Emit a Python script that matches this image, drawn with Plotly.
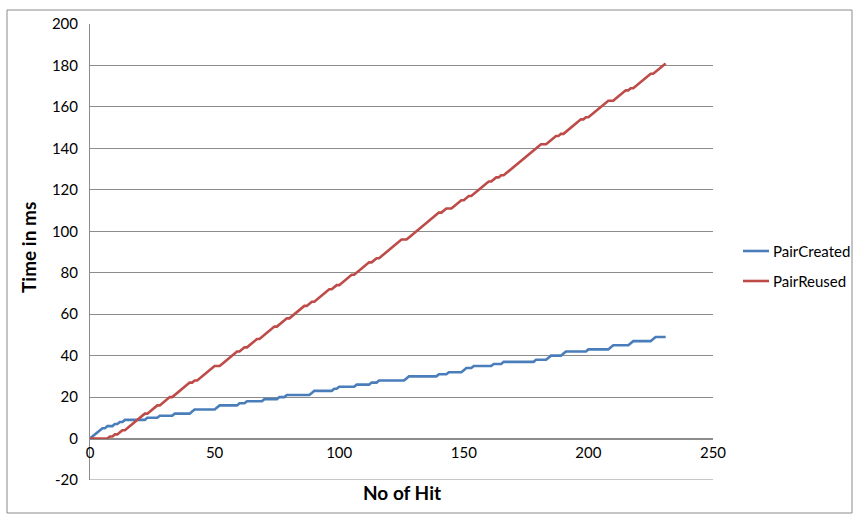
import plotly.graph_objects as go

# Hit counter (x) and cumulative time in ms for each strategy
hits = list(range(0, 232))

pair_created = [
    0, 1, 2, 3, 4, 5, 5, 6, 6, 6,
    7, 7, 8, 8, 9, 9, 9, 9, 9, 9,
    9, 9, 9, 10, 10, 10, 10, 10, 11, 11,
    11, 11, 11, 11, 12, 12, 12, 12, 12, 12,
    12, 13, 14, 14, 14, 14, 14, 14, 14, 14,
    14, 15, 16, 16, 16, 16, 16, 16, 16, 16,
    17, 17, 17, 18, 18, 18, 18, 18, 18, 18,
    19, 19, 19, 19, 19, 19, 20, 20, 20, 21,
    21, 21, 21, 21, 21, 21, 21, 21, 21, 22,
    23, 23, 23, 23, 23, 23, 23, 23, 24, 24,
    25, 25, 25, 25, 25, 25, 25, 26, 26, 26,
    26, 26, 26, 27, 27, 27, 28, 28, 28, 28,
    28, 28, 28, 28, 28, 28, 28, 29, 30, 30,
    30, 30, 30, 30, 30, 30, 30, 30, 30, 30,
    31, 31, 31, 31, 32, 32, 32, 32, 32, 32,
    33, 34, 34, 34, 35, 35, 35, 35, 35, 35,
    35, 35, 36, 36, 36, 36, 37, 37, 37, 37,
    37, 37, 37, 37, 37, 37, 37, 37, 37, 38,
    38, 38, 38, 38, 39, 40, 40, 40, 40, 40,
    41, 42, 42, 42, 42, 42, 42, 42, 42, 42,
    43, 43, 43, 43, 43, 43, 43, 43, 43, 44,
    45, 45, 45, 45, 45, 45, 45, 46, 47, 47,
    47, 47, 47, 47, 47, 47, 48, 49, 49, 49,
    49, 49,
]

pair_reused = [
    0, 0, 0, 0, 0, 0, 0, 0, 1, 1,
    2, 2, 3, 4, 4, 5, 6, 7, 8, 9,
    10, 11, 12, 12, 13, 14, 15, 16, 16, 17,
    18, 19, 20, 20, 21, 22, 23, 24, 25, 26,
    27, 27, 28, 28, 29, 30, 31, 32, 33, 34,
    35, 35, 35, 36, 37, 38, 39, 40, 41, 42,
    42, 43, 44, 44, 45, 46, 47, 48, 48, 49,
    50, 51, 52, 53, 54, 54, 55, 56, 57, 58,
    58, 59, 60, 61, 62, 63, 64, 64, 65, 66,
    66, 67, 68, 69, 70, 71, 72, 72, 73, 74,
    74, 75, 76, 77, 78, 79, 79, 80, 81, 82,
    83, 84, 85, 85, 86, 87, 87, 88, 89, 90,
    91, 92, 93, 94, 95, 96, 96, 96, 97, 98,
    99, 100, 101, 102, 103, 104, 105, 106, 107, 108,
    109, 109, 110, 111, 111, 111, 112, 113, 114, 115,
    115, 116, 117, 117, 118, 119, 120, 121, 122, 123,
    124, 124, 125, 126, 126, 127, 127, 128, 129, 130,
    131, 132, 133, 134, 135, 136, 137, 138, 139, 140,
    141, 142, 142, 142, 143, 144, 145, 146, 146, 147,
    147, 148, 149, 150, 151, 152, 153, 154, 154, 155,
    155, 156, 157, 158, 159, 160, 161, 162, 163, 163,
    163, 164, 165, 166, 167, 168, 168, 169, 169, 170,
    171, 172, 173, 174, 175, 176, 176, 177, 178, 179,
    180, 181,
]

series_names = ["PairCreated", "PairReused"]
series_colors = ["#4a7ebb", "#be4b48"]

x_ticks = [0, 50, 100, 150, 200, 250]
y_ticks = [-20, 0, 20, 40, 60, 80, 100, 120, 140, 160, 180, 200]

FONT = "Lato, Calibri, Carlito, sans-serif"
GRID = "#8c8c8c"
W, H = 856, 523
L, R, T, B = 90, 713, 24, 480          # plot area in pixels
PW, PH = R - L, B - T


def px_x(p):
    return (p - L) / PW


def px_y(p):
    return (B - p) / PH


fig = go.Figure()
for name, ys, col in zip(series_names, [pair_created, pair_reused], series_colors):
    fig.add_trace(go.Scatter(
        x=hits, y=ys, mode="lines", name=name,
        line=dict(color=col, width=2.6), showlegend=False,
    ))

# x axis crosses the y axis at zero, so place it at the y=0 fraction of the plot height
y_lo, y_hi = -20, 200
zero_pos = (0 - y_lo) / (y_hi - y_lo)

fig.update_layout(
    width=W, height=H,
    margin=dict(l=L, r=W - R, t=T, b=H - B),
    paper_bgcolor="white", plot_bgcolor="white",
    font=dict(family=FONT, size=15, color="#000000"),
    xaxis=dict(
        range=[0, 250], tickvals=x_ticks, ticktext=[str(v) for v in x_ticks],
        showgrid=False, zeroline=False,
        showline=True, linecolor=GRID, linewidth=1,
        anchor="free", position=zero_pos,
        ticks="", ticklen=0, tickfont=dict(size=15),
    ),
    yaxis=dict(
        range=[y_lo, y_hi], tickvals=y_ticks, ticktext=[str(v) for v in y_ticks],
        showgrid=True, gridcolor=GRID, gridwidth=1, zeroline=False,
        showline=True, linecolor=GRID, linewidth=1,
        ticks="", tickfont=dict(size=15), ticklabelstandoff=8,
    ),
    showlegend=False,
)

# bottom edge of plot area (gridline at -20) and the outer chart border
fig.add_shape(type="line", xref="paper", yref="y", x0=0, x1=1, y0=-20, y1=-20,
              line=dict(color=GRID, width=1))
fig.add_shape(type="rect", xref="paper", yref="paper",
              x0=px_x(7), x1=px_x(852), y0=px_y(513), y1=px_y(10),
              line=dict(color="#8a8a8a", width=1), fillcolor="rgba(0,0,0,0)", layer="below")

# legend: short line sample followed by the series name
for i, (name, col) in enumerate(zip(series_names, series_colors)):
    ly = 251 + 30 * i
    fig.add_shape(type="line", xref="paper", yref="paper",
                  x0=px_x(743), x1=px_x(769), y0=px_y(ly), y1=px_y(ly),
                  line=dict(color=col, width=2.6))
    fig.add_annotation(text=name, xref="paper", yref="paper",
                       x=px_x(771), y=px_y(ly), showarrow=False,
                       xanchor="left", yanchor="middle", font=dict(size=15))

# axis titles
fig.add_annotation(text="<b>No of Hit</b>", xref="paper", yref="paper",
                   x=px_x(402), y=px_y(492), showarrow=False,
                   font=dict(size=19), xanchor="center", yanchor="middle")
fig.add_annotation(text="<b>Time in ms</b>", xref="paper", yref="paper",
                   x=px_x(28), y=px_y(248), showarrow=False,
                   textangle=-90, font=dict(size=19), xanchor="center", yanchor="middle")

fig.write_html("out.html")
